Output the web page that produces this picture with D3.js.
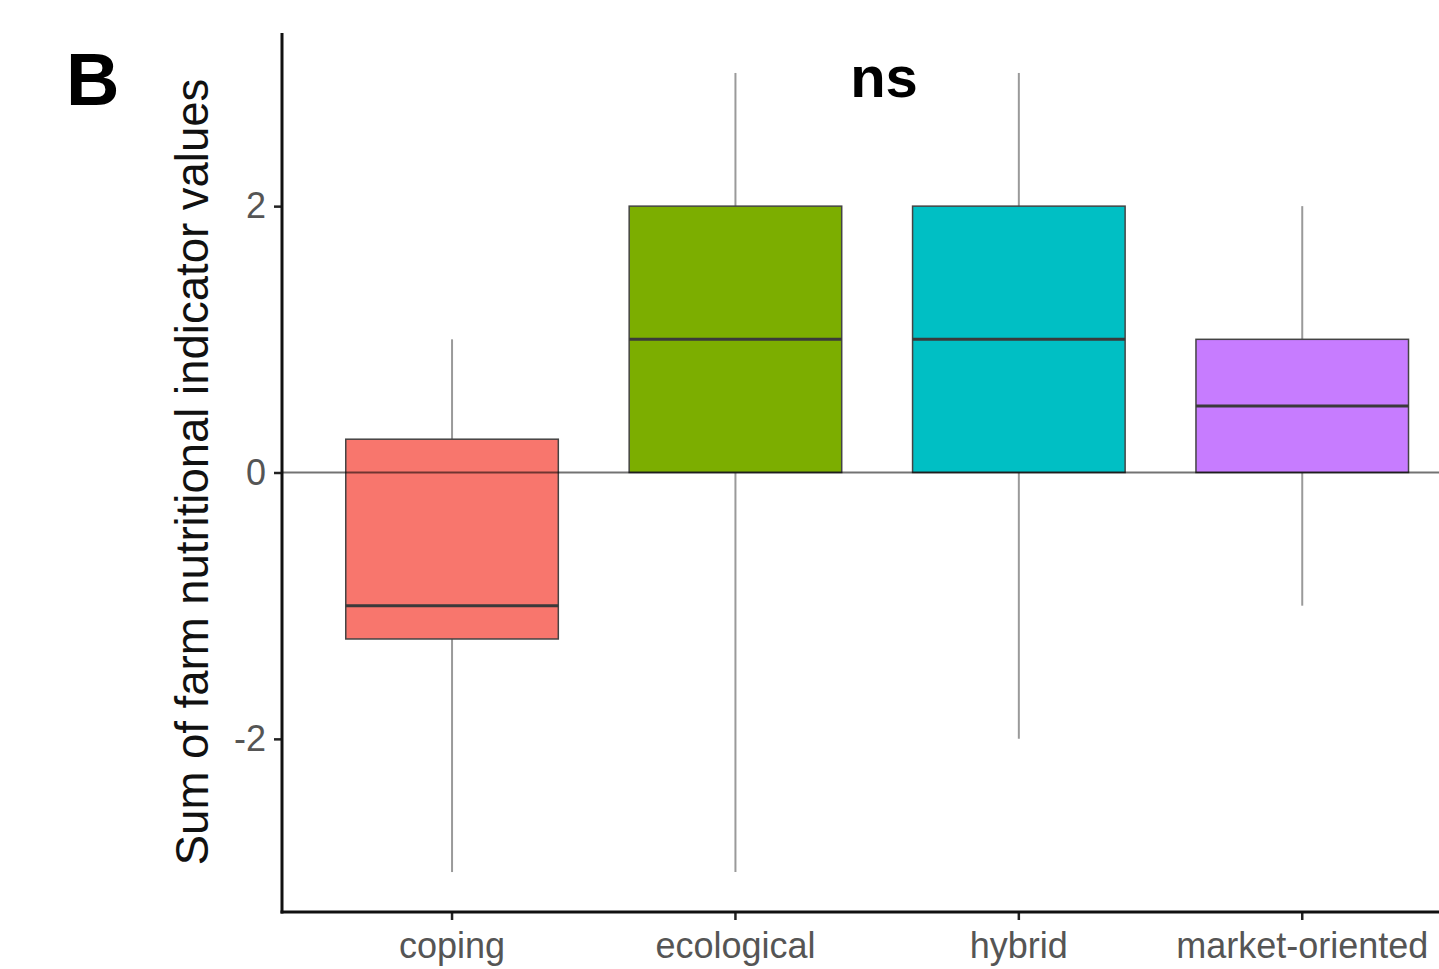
<!DOCTYPE html>
<html>
<head>
<meta charset="utf-8">
<script src="https://cdn.jsdelivr.net/npm/d3@7"></script>
<style>
  body { margin: 0; background: #fff; }
  svg { display: block; }
</style>
</head>
<body>
<div id="chart-area"></div>
<script>
// box plot data
let categories = ["coping", "ecological", "hybrid", "market-oriented"];
let lowerWhisker = [-3, -3, -2, -1];
let q1 = [-1.25, 0, 0, 0];
let median = [-1, 1, 1, 0.5];
let q3 = [0.25, 2, 2, 1];
let upperWhisker = [1, 3, 3, 2];
let fills = ["#F8766D", "#7CAE00", "#00BFC4", "#C77CFF"];
let yTicks = [-2, 0, 2];

let W = 1439, H = 969;
let margin = {left: 282, top: 33, bottom: 57};
let plotBottom = H - margin.bottom;

let svg = d3.select("#chart-area")
    .append("svg")
    .attr("width", W)
    .attr("height", H);

let x = d3.scaleBand()
    .domain(categories)
    .range([margin.left, margin.left + 4.2 * 283.4])
    .paddingInner(0)
    .paddingOuter(0.1);

let y = d3.scaleLinear()
    .domain([-3.3, 3.3])
    .range([plotBottom, margin.top]);

let boxW = x.bandwidth() * 0.75;

let data = categories.map(function(c, i){
    return {cat: c, lo: lowerWhisker[i], q1: q1[i], med: median[i], q3: q3[i], hi: upperWhisker[i], fill: fills[i]};
});

let cx = function(d){ return x(d.cat) + x.bandwidth() / 2; };

let g = svg.append("g");

// whiskers
g.selectAll(".whisker-up")
    .data(data)
    .enter().append("line")
    .attr("x1", cx).attr("x2", cx)
    .attr("y1", function(d){ return y(d.q3); })
    .attr("y2", function(d){ return y(d.hi); })
    .attr("stroke", "#9a9a9a")
    .attr("stroke-width", 2);

g.selectAll(".whisker-down")
    .data(data)
    .enter().append("line")
    .attr("x1", cx).attr("x2", cx)
    .attr("y1", function(d){ return y(d.q1); })
    .attr("y2", function(d){ return y(d.lo); })
    .attr("stroke", "#9a9a9a")
    .attr("stroke-width", 2);

// boxes
g.selectAll(".box")
    .data(data)
    .enter().append("rect")
    .attr("x", function(d){ return cx(d) - boxW / 2; })
    .attr("width", boxW)
    .attr("y", function(d){ return y(d.q3); })
    .attr("height", function(d){ return y(d.q1) - y(d.q3); })
    .attr("fill", function(d){ return d.fill; })
    .attr("stroke", "#444")
    .attr("stroke-width", 1.5);

// medians
g.selectAll(".median")
    .data(data)
    .enter().append("line")
    .attr("x1", function(d){ return cx(d) - boxW / 2; })
    .attr("x2", function(d){ return cx(d) + boxW / 2; })
    .attr("y1", function(d){ return y(d.med); })
    .attr("y2", function(d){ return y(d.med); })
    .attr("stroke", "#3a3a3a")
    .attr("stroke-width", 3);

// reference line at zero
g.append("line")
    .attr("x1", margin.left).attr("x2", W)
    .attr("y1", y(0)).attr("y2", y(0))
    .attr("stroke", "#000")
    .attr("stroke-opacity", 0.55)
    .attr("stroke-width", 2.2);

// y axis
let yAxis = d3.axisLeft(y).tickValues(yTicks).tickSize(8).tickPadding(8)
    .tickFormat(function(d){ return String(d); });
let yAxisG = svg.append("g")
    .attr("transform", "translate(" + margin.left + ",0)")
    .call(yAxis);
yAxisG.select(".domain").remove();
yAxisG.append("line")
    .attr("x1", 0).attr("x2", 0)
    .attr("y1", margin.top).attr("y2", plotBottom + 1.5)
    .attr("stroke", "#111").attr("stroke-width", 3);

// x axis
let xAxis = d3.axisBottom(x).tickSize(8).tickPadding(12);
let xAxisG = svg.append("g")
    .attr("transform", "translate(0," + plotBottom + ")")
    .call(xAxis);
xAxisG.select(".domain").remove();
xAxisG.append("line")
    .attr("x1", margin.left - 1.5).attr("x2", W)
    .attr("y1", 0).attr("y2", 0)
    .attr("stroke", "#111").attr("stroke-width", 3);

svg.selectAll(".tick line").attr("stroke", "#222").attr("stroke-width", 2.5);
svg.selectAll(".tick text")
    .attr("fill", "#555")
    .attr("font-family", "Liberation Sans, Arial, sans-serif")
    .attr("font-size", "36px");

// y label
svg.append("text")
    .attr("transform", "rotate(-90)")
    .attr("x", -472)
    .attr("y", 208)
    .attr("text-anchor", "middle")
    .attr("font-family", "Liberation Sans, Arial, sans-serif")
    .attr("font-size", "45.5px")
    .attr("fill", "#111")
    .text("Sum of farm nutritional indicator values");

// panel letter
svg.append("text")
    .attr("x", 66)
    .attr("y", 105)
    .attr("font-family", "Liberation Sans, Arial, sans-serif")
    .attr("font-weight", "bold")
    .attr("font-size", "74px")
    .text("B");

// significance label
svg.append("text")
    .attr("x", 884)
    .attr("y", 97)
    .attr("text-anchor", "middle")
    .attr("font-family", "Liberation Sans, Arial, sans-serif")
    .attr("font-weight", "bold")
    .attr("font-size", "58px")
    .text("ns");
</script>
</body>
</html>
